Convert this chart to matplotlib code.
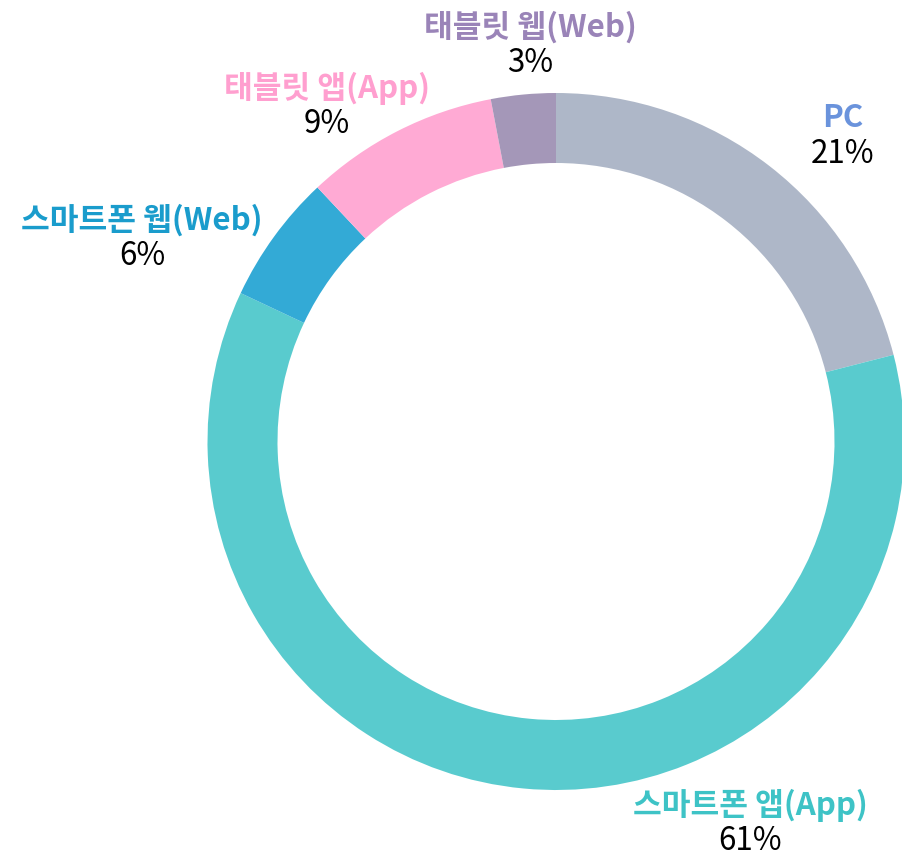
import matplotlib.pyplot as plt

plt.rcParams['font.family'] = ['Noto Sans CJK KR', 'DejaVu Sans']

# data
labels = ['PC', '스마트폰 앱(App)', '스마트폰 웹(Web)', '태블릿 앱(App)', '태블릿 웹(Web)']
shares = [21, 61, 6, 9, 3]
wedge_colors = ['#aeb7c8', '#59cbce', '#33aad6', '#ffaad4', '#a497b8']
label_colors = ['#6a93dc', '#3ec3c6', '#1a9ccc', '#ff9fcf', '#9a84b8']

# label positions in pixels (x, y from top)
label_pos = [(843, 118), (750, 805), (142, 220), (327, 88), (530, 27)]

W, H = 902, 857
fig = plt.figure(figsize=(W / 100, H / 100), dpi=100)
ax = fig.add_axes([0, 0, 1, 1])

cx, cy = 556, 441.5
ax.pie(shares, colors=wedge_colors, startangle=90, counterclock=False,
       center=(cx, H - cy), radius=348.5,
       wedgeprops=dict(width=70, linewidth=0))

for lab, val, col, (px, py) in zip(labels, shares, label_colors, label_pos):
  ax.text(px, H - py, lab, color=col, fontsize=22.5, fontweight='bold',
          ha='center', va='center')
  ax.text(px, H - py - 36, '%d%%' % val, color='black', fontsize=22.5,
          ha='center', va='center')

ax.set_xlim(0, W)
ax.set_ylim(0, H)
ax.set_aspect('auto')
ax.axis('off')
fig.savefig('out.png', dpi=100)
